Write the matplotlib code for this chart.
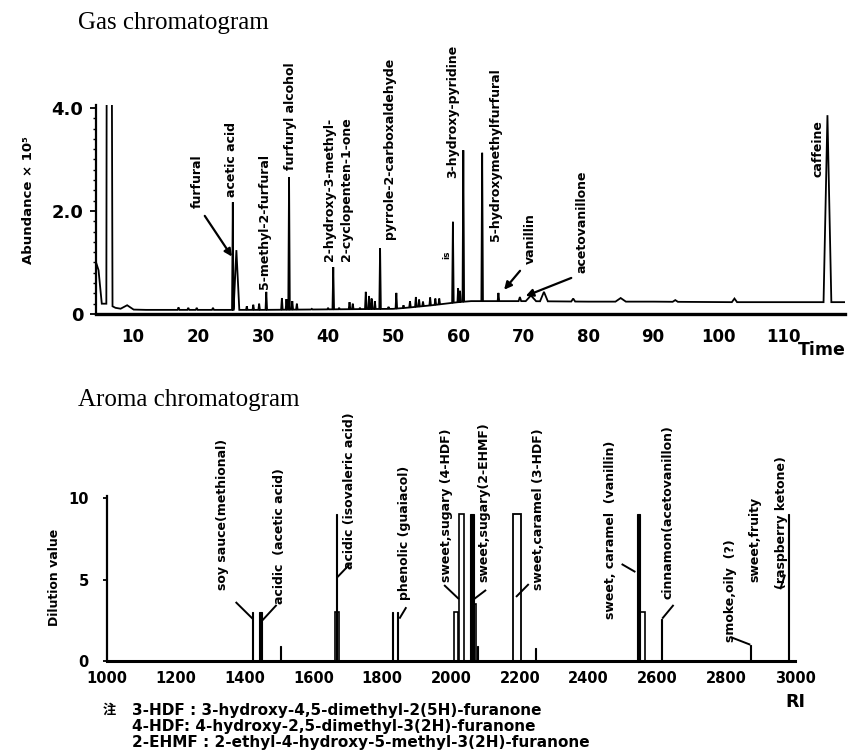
import matplotlib
matplotlib.use("Agg")
import matplotlib.pyplot as plt
import numpy as np

# ---- Gas chromatogram data (time in min, abundance x 1e5) ----
# solvent front at the very start of the run
solvent_t = [4.35, 4.7, 5.2, 5.9, 5.95, 6.75, 6.85, 7.3]
solvent_v = [0.99, 0.85, 0.2, 0.2, 4.5, 4.5, 0.15, 0.12]

base_t = [7.3, 8.7, 12, 20, 30, 40, 50, 52, 56, 60, 62, 70, 80, 90, 100, 110, 119.5]
base_v = [0.12, 0.09, 0.08, 0.08, 0.08, 0.09, 0.1, 0.12, 0.17, 0.23, 0.25, 0.25, 0.24, 0.24, 0.23, 0.23, 0.23]

# peaks: retention time, apex height, half width
peak_t = [9.1, 17.0, 18.5, 19.8, 22.3, 25.35, 25.9, 27.5, 28.5, 29.4, 30.5, 32.9,
          33.6, 34.0, 34.5, 35.2, 37.5, 40.0, 40.8, 41.7, 43.3, 43.8, 44.9, 45.8,
          46.3, 46.7, 47.2, 48.0, 49.3, 50.5, 51.6, 52.6, 53.5, 54.0, 54.6, 55.7,
          56.5, 57.1, 59.2, 60.0, 60.3, 60.8, 63.7, 66.2, 69.5, 71.2, 73.2, 77.7,
          85.0, 93.4, 102.5, 116.8]
peak_h = [0.17, 0.13, 0.12, 0.12, 0.12, 2.17, 1.24, 0.15, 0.18, 0.2, 0.43, 0.31,
          0.29, 2.66, 0.25, 0.2, 0.1, 0.12, 0.91, 0.12, 0.23, 0.2, 0.12, 0.43,
          0.35, 0.3, 0.25, 1.28, 0.14, 0.41, 0.17, 0.25, 0.33, 0.28, 0.24, 0.32,
          0.3, 0.3, 1.79, 0.5, 0.45, 3.18, 3.13, 0.41, 0.33, 0.36, 0.43, 0.3,
          0.31, 0.27, 0.3, 3.86]
peak_w = [1.0, 0.15, 0.15, 0.15, 0.15, 0.12, 0.45, 0.12, 0.12, 0.12, 0.12, 0.12,
          0.12, 0.12, 0.12, 0.12, 0.12, 0.12, 0.12, 0.12, 0.12, 0.12, 0.12, 0.12,
          0.12, 0.12, 0.12, 0.12, 0.12, 0.12, 0.12, 0.12, 0.12, 0.12, 0.12, 0.12,
          0.12, 0.12, 0.12, 0.1, 0.1, 0.12, 0.12, 0.12, 0.2, 0.8, 0.6, 0.3,
          0.8, 0.4, 0.4, 0.6]

gc_names = ["furfural", "acetic acid", "5-methyl-2-furfural", "furfuryl alcohol",
            "2-hydroxy-3-methyl-\n2-cyclopenten-1-one", "pyrrole-2-carboxaldehyde",
            "is", "3-hydroxy-pyridine", "5-hydroxymethylfurfural", "vanillin",
            "acetovanillone", "caffeine"]

# ---- Aroma chromatogram data (retention index, dilution value) ----
aroma_ri = [1423, 1445, 1504, 1667, 1669, 1829, 1844, 2015, 2030, 2061, 2066, 2076,
            2192, 2247, 2545, 2557, 2612, 2870, 2980]
aroma_dv = [3, 3, 0.9, 9, 3, 3, 3, 3, 9, 9, 3.5, 0.9,
            9, 0.8, 9, 3, 2.6, 1, 9]
aroma_kind = ["thin", "thick", "thin", "thin", "hollow", "thin", "thin", "hollow", "hollow",
              "thick", "hollow", "thin", "wide", "thin", "thick", "hollow", "thin", "thin", "thin"]

aroma_names = ["soy sauce(methional)", "acidic  (acetic acid)", "acidic (isovaleric acid)",
               "phenolic (guaiacol)", "sweet,sugary (4-HDF)", "sweet,sugary(2-EHMF)",
               "sweet,caramel (3-HDF)", "sweet, caramel  (vanillin)",
               "cinnamon(acetovanillon)", "smoke,oily  (?)", "sweet,fruity",
               "(raspberry ketone)"]

notes = ["3-HDF : 3-hydroxy-4,5-dimethyl-2(5H)-furanone",
         "4-HDF: 4-hydroxy-2,5-dimethyl-3(2H)-furanone",
         "2-EHMF : 2-ethyl-4-hydroxy-5-methyl-3(2H)-furanone"]

W, H = 852, 754
fig = plt.figure(figsize=(W / 100, H / 100), dpi=100)
SANS = ["DejaVu Sans"]


def px(x, y):
    return x / W, 1 - y / H


# ================= Gas chromatogram =================
ax1 = fig.add_axes([96 / W, 1 - 314 / H, (845 - 96) / W, (314 - 105.4) / H])

# build trace: baseline + triangular peaks
pts = []
for t, v in zip(solvent_t, solvent_v):
    pts.append((t, v))
for t, v in zip(base_t, base_v):
    inside = any(abs(t - pt) <= pw for pt, pw in zip(peak_t, peak_w))
    if not inside:
        pts.append((t, v))
for t, h, w in zip(peak_t, peak_h, peak_w):
    b0 = np.interp(t - w, base_t, base_v)
    b1 = np.interp(t + w, base_t, base_v)
    pts += [(t - w, b0), (t, h), (t + w, b1)]
pts.sort(key=lambda p: p[0])
tr = np.array(pts)
ax1.plot(tr[:, 0], tr[:, 1], color="black", lw=1.3, solid_joinstyle="miter")

ax1.set_xlim(4.31, 119.5)
ax1.set_ylim(0, 4.05)
for s in ["top", "right"]:
    ax1.spines[s].set_visible(False)
ax1.spines["bottom"].set_linewidth(2.4)
ax1.spines["left"].set_linewidth(1.6)
ax1.set_xticks(range(10, 111, 10))
ax1.set_yticks([0, 2, 4])
ax1.set_yticklabels(["0", "2.0", "4.0"])
ax1.set_yticks(np.arange(0, 4.01, 0.2), minor=True)
ax1.tick_params(axis="x", length=0, pad=10, labelsize=12)
ax1.tick_params(axis="y", which="major", length=4, width=1.3, pad=5, labelsize=13)
ax1.tick_params(axis="y", which="minor", length=2.5, width=1)
for lab in ax1.get_xticklabels() + ax1.get_yticklabels():
    lab.set_fontweight("bold")

# compound labels (time, bottom of text)
gc_lab_x = [19.85, 25.2, 30.3, 34.15, 41.5, 49.5, 58.3, 59.1, 65.7, 71.1, 79.1, 115.4]
gc_lab_y = [2.05, 2.27, 0.49, 2.8, 1.03, 1.46, 1.07, 2.65, 1.42, 0.98, 0.8, 2.66]
for name, x, y in zip(gc_names, gc_lab_x, gc_lab_y):
    fs = 6.5 if name == "is" else 9
    ax1.text(x, y, name, rotation=90, ha="center", va="bottom", fontsize=fs,
             fontweight="bold", family=SANS, multialignment="left", linespacing=1.45)

arrow = dict(arrowstyle="-|>", color="black", lw=1.6, mutation_scale=11)
ax1.annotate("", xy=(25.45, 1.07), xytext=(20.8, 1.95), arrowprops=arrow)
ax1.annotate("", xy=(66.8, 0.43), xytext=(69.8, 0.88), arrowprops=arrow)
ax1.annotate("", xy=(70.0, 0.33), xytext=(77.8, 0.72), arrowprops=arrow)

fig.text(*px(78, 23), "Gas chromatogram", family="Liberation Serif", fontsize=18,
         va="center", ha="left")
fig.text(*px(28, 200), "Abundance × 10⁵", rotation=90, ha="center", va="center",
         fontsize=9.5, fontweight="bold", family=SANS)
fig.text(*px(798, 350), "Time", fontsize=12.5, fontweight="bold", family=SANS,
         va="center", ha="left")

# ================= Aroma chromatogram =================
ax2 = fig.add_axes([107 / W, 1 - 661 / H, (795 - 107) / W, (10.1 * 16.3) / H])
for r, d, k in zip(aroma_ri, aroma_dv, aroma_kind):
    if k == "thin":
        ax2.bar(r, d, width=3, color="black", edgecolor="black", lw=0.8)
    elif k == "thick":
        ax2.bar(r, d, width=9, color="black", edgecolor="black", lw=0.8)
    elif k == "hollow":
        ax2.bar(r, d, width=13, facecolor="none", edgecolor="black", lw=1.2)
    else:
        ax2.bar(r, d, width=22, facecolor="none", edgecolor="black", lw=1.3)

ax2.set_xlim(1000, 3000)
ax2.set_ylim(0, 10.1)
for s in ["top", "right"]:
    ax2.spines[s].set_visible(False)
ax2.spines["bottom"].set_linewidth(2.2)
ax2.spines["left"].set_linewidth(1.6)
ax2.set_xticks(range(1000, 3001, 200))
ax2.set_yticks([0, 5, 10])
ax2.tick_params(axis="x", length=0, pad=7, labelsize=10.5)
ax2.tick_params(axis="y", length=3, width=1.3, pad=10, labelsize=10.5)
for lab in ax2.get_xticklabels() + ax2.get_yticklabels():
    lab.set_fontweight("bold")

ar_lab_x = [1336, 1502, 1704, 1864, 1986, 2096, 2255, 2464, 2632, 2812, 2884, 2960]
ar_lab_y = [4.36, 3.5, 5.64, 3.74, 4.85, 4.85, 4.36, 2.58, 3.8, 1.17, 4.85, 4.42]
for name, x, y in zip(aroma_names, ar_lab_x, ar_lab_y):
    ax2.text(x, y, name, rotation=90, ha="center", va="bottom", fontsize=9,
             fontweight="bold", family=SANS)

# leader lines from labels to peaks
leaders = [((1374, 3.62), (1423, 2.6)), ((1493, 3.44), (1452, 2.5)),
           ((1704, 5.9), (1670, 5.15)), ((1870, 3.3), (1850, 2.6)),
           ((1980, 4.66), (2023, 3.8)), ((2102, 4.36), (2067, 3.8)),
           ((2226, 4.72), (2189, 3.93)), ((2496, 5.95), (2536, 5.46)),
           ((2647, 3.44), (2614, 2.6)), ((2815, 1.45), (2870, 1.0)),
           ((2957, 4.4), (2971, 5.3))]
for (x0, y0), (x1, y1) in leaders:
    ax2.plot([x0, x1], [y0, y1], color="black", lw=1.4, solid_capstyle="butt")

fig.text(*px(78, 400), "Aroma chromatogram", family="Liberation Serif", fontsize=18,
         va="center", ha="left")
fig.text(*px(55, 577), "Dilution value", rotation=90, ha="center", va="center",
         fontsize=9, fontweight="bold", family=SANS)
fig.text(*px(795, 702), "RI", fontsize=12.5, fontweight="bold", family=SANS,
         va="center", ha="center")

# footnote
fig.text(*px(103, 710), "注", family=["Noto Sans CJK JP", "DejaVu Sans"], fontsize=9.5,
         fontweight="bold", va="center", ha="left")
for i, line in enumerate(notes):
    fig.text(*px(132, 710 + 16 * i), line, fontsize=11, fontweight="bold",
             family=SANS, va="center", ha="left")

fig.savefig("out.png", dpi=100, facecolor="white")
